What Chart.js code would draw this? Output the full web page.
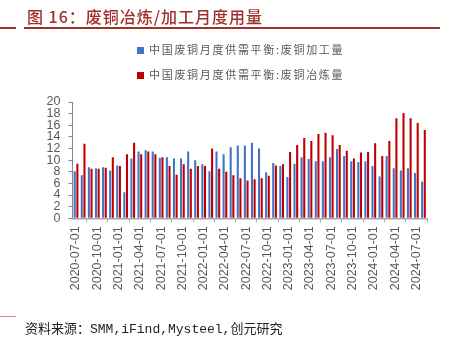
<!DOCTYPE html>
<html>
<head>
<meta charset="utf-8">
<script src="https://cdn.jsdelivr.net/npm/chart.js@4.4.1/dist/chart.umd.min.js"></script>
<style>
  body { margin: 0; background: #fff; }
  #wrap { position: relative; width: 457px; height: 343px; overflow: hidden; }
  #chart { position: absolute; left: 0; top: 0; }
  .title { position: absolute; left: 27px; top: 4px; font: 500 16px "Noto Sans CJK SC"; color: #A0302A; letter-spacing: 1px; white-space: nowrap; }
  .rule { position: absolute; height: 1.5px; background: #A0302A; }
  .legend { position: absolute; left: 137px; font: 11px "Noto Sans CJK SC"; color: #595959; letter-spacing: 1.7px; white-space: nowrap; }
  .legend i { display: inline-block; width: 7px; height: 7px; margin-right: 5px; vertical-align: 0px; }
  .source { position: absolute; left: 25px; top: 318px; font: 13px "Liberation Mono", "Noto Sans CJK SC"; color: #222; white-space: nowrap; }
</style>
</head>
<body>
<div id="wrap">
  <canvas id="chart" width="457" height="343"></canvas>
  <div class="title">图 16：废铜冶炼/加工月度用量</div>
  <div class="rule" style="left:0;width:16px;top:27px"></div>
  <div class="rule" style="left:24px;width:416px;top:27px"></div>
  <div id="legend"></div>
  <div class="rule" style="left:0;width:16px;top:316px;height:1px;background:#C9948F"></div>
  <div class="source">资料来源：SMM,iFind,Mysteel,创元研究</div>
</div>
<script>
const months = [
  "2020-07-01","2020-08-01","2020-09-01","2020-10-01","2020-11-01","2020-12-01",
  "2021-01-01","2021-02-01","2021-03-01","2021-04-01","2021-05-01","2021-06-01",
  "2021-07-01","2021-08-01","2021-09-01","2021-10-01","2021-11-01","2021-12-01",
  "2022-01-01","2022-02-01","2022-03-01","2022-04-01","2022-05-01","2022-06-01",
  "2022-07-01","2022-08-01","2022-09-01","2022-10-01","2022-11-01","2022-12-01",
  "2023-01-01","2023-02-01","2023-03-01","2023-04-01","2023-05-01","2023-06-01",
  "2023-07-01","2023-08-01","2023-09-01","2023-10-01","2023-11-01","2023-12-01",
  "2024-01-01","2024-02-01","2024-03-01","2024-04-01","2024-05-01","2024-06-01",
  "2024-07-01","2024-08-01"
];

// 废铜加工量
const processing = [
  8.1, 7.4, 8.8, 8.6, 8.8, 8.2, 9.1, 4.5, 10.3, 11.5, 11.7, 11.5,
  10.4, 10.5, 10.3, 10.3, 11.5, 10.0, 9.3, 8.1, 11.5, 11.0, 12.2, 12.5,
  12.5, 13.0, 12.0, 7.9, 9.5, 9.0, 7.1, 9.4, 10.5, 10.2, 9.8, 9.8,
  10.5, 11.9, 10.7, 9.8, 9.7, 9.8, 9.0, 7.2, 10.7, 8.6, 8.2, 8.6,
  7.8, 6.3
];

// 废铜冶炼量
const smelting = [
  9.4, 12.8, 8.5, 8.5, 8.7, 10.5, 9.0, 11.0, 13.0, 11.0, 11.5, 11.0,
  10.5, 9.0, 7.5, 9.3, 8.5, 9.0, 9.0, 12.0, 8.5, 8.0, 7.4, 6.9,
  6.5, 6.7, 6.9, 7.3, 9.1, 9.3, 11.4, 12.6, 13.8, 13.3, 14.5, 14.7,
  14.3, 12.6, 11.6, 10.3, 11.3, 11.4, 12.9, 10.7, 13.3, 17.2, 18.1, 17.2,
  16.4, 15.2
];

const seriesNames = ["中国废铜月度供需平衡:废铜加工量", "中国废铜月度供需平衡:废铜冶炼量"];
const seriesColors = ["#4472C4", "#C00000"];
const yMax = 20;
const yStep = 2;

// legend, stacked in one column like the original
const legendEl = document.getElementById("legend");
seriesNames.forEach((name, i) => {
  const row = document.createElement("div");
  row.className = "legend";
  row.style.top = (41 + i * 25) + "px";
  row.innerHTML = `<i style="background:${seriesColors[i]}"></i>${name}`;
  legendEl.appendChild(row);
});

const AXIS_GREY = "#A6A6A6";
const LABEL_GREY = "#595959";

new Chart(document.getElementById("chart"), {
  type: "bar",
  data: {
    labels: months,
    datasets: [
      { label: seriesNames[0], data: processing, backgroundColor: seriesColors[0] },
      { label: seriesNames[1], data: smelting, backgroundColor: seriesColors[1] }
    ]
  },
  options: {
    responsive: false,
    animation: false,
    layout: { padding: { left: 0, top: 102, right: 30, bottom: 0 } },
    datasets: { bar: { categoryPercentage: 0.75, barPercentage: 0.78 } },
    plugins: { legend: { display: false }, tooltip: { enabled: false } },
    scales: {
      x: {
        grid: { drawOnChartArea: false, drawTicks: true, tickLength: 4, color: AXIS_GREY },
        border: { color: AXIS_GREY, width: 1.5 },
        ticks: {
          autoSkip: false,
          minRotation: 90,
          maxRotation: 90,
          padding: 4,
          color: LABEL_GREY,
          font: { family: "Liberation Sans", size: 12.5 },
          callback: (v, i) => (i % 3 === 0 ? months[i] : null)
        },
        afterFit: s => { s.height = 343 - 218.3; }
      },
      y: {
        min: 0,
        max: yMax,
        grid: { drawOnChartArea: false, drawTicks: true, tickLength: 4, color: "#868686" },
        border: { color: "#868686", width: 1 },
        ticks: {
          stepSize: yStep,
          autoSkip: false,
          padding: 8,
          color: LABEL_GREY,
          font: { family: "Liberation Sans", size: 12.5 }
        },
        afterFit: s => { s.width = 72.5; }
      }
    }
  }
});
</script>
</body>
</html>
